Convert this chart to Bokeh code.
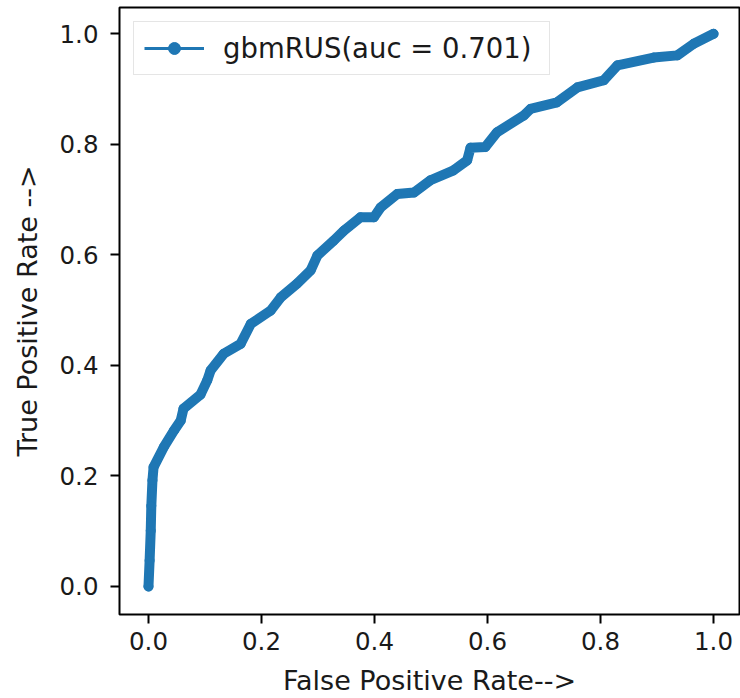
from bokeh.plotting import figure
from bokeh.models import Range1d, FixedTicker, PrintfTickFormatter, Legend, LegendItem
from bokeh.embed import file_html
from bokeh.resources import INLINE

# ROC curve
fpr = [0.000, 0.002, 0.004, 0.005, 0.007, 0.009, 0.027, 0.045, 0.057, 0.062,
       0.092, 0.104, 0.110, 0.133, 0.163, 0.181, 0.216, 0.234, 0.263, 0.287,
       0.299, 0.328, 0.346, 0.375, 0.399, 0.411, 0.440, 0.470, 0.499, 0.540,
       0.564, 0.570, 0.596, 0.617, 0.664, 0.676, 0.723, 0.759, 0.806, 0.830,
       0.894, 0.936, 0.965, 1.000]
tpr = [0.000, 0.047, 0.101, 0.146, 0.192, 0.216, 0.252, 0.282, 0.300, 0.322,
       0.347, 0.373, 0.391, 0.421, 0.439, 0.475, 0.499, 0.523, 0.548, 0.572,
       0.599, 0.626, 0.644, 0.668, 0.668, 0.686, 0.710, 0.713, 0.735, 0.753,
       0.771, 0.794, 0.795, 0.822, 0.852, 0.864, 0.876, 0.903, 0.916, 0.943,
       0.957, 0.961, 0.982, 1.000]
series_label = "gbmRUS(auc = 0.701)"
tick_values = [0.0, 0.2, 0.4, 0.6, 0.8, 1.0]

BLUE = "#1f77b4"
FONT = "DejaVu Sans"
TXT = "#1a1a1a"

p = figure(width=740, height=698, output_backend="svg", toolbar_location=None,
           x_range=Range1d(-0.0513, 1.046), y_range=Range1d(-0.0507, 1.0476),
           min_border_left=119, min_border_right=1, min_border_top=7,
           min_border_bottom=84)

p.xgrid.visible = False
p.ygrid.visible = False
p.outline_line_color = "black"
p.outline_line_width = 2
p.outline_line_alpha = 1
p.background_fill_color = "white"
p.border_fill_color = "white"

# dense band of points (the reference draws hundreds of overlapping dots)
p.line(fpr, tpr, line_color=BLUE, line_width=10, line_join="round", line_cap="round")
thin = p.line(fpr, tpr, line_color=BLUE, line_width=3)
dots = p.scatter(fpr, tpr, size=9, color=BLUE)

for ax in (p.xaxis[0], p.yaxis[0]):
    ax.ticker = FixedTicker(ticks=tick_values)
    ax.formatter = PrintfTickFormatter(format="%.1f")
    ax.major_tick_out = 9
    ax.major_tick_in = 0
    ax.minor_tick_out = 0
    ax.minor_tick_in = 0
    ax.major_tick_line_width = 2
    ax.major_tick_line_color = "black"
    ax.axis_line_color = None
    ax.major_label_text_font = FONT
    ax.major_label_text_font_size = "24.5px"
    ax.major_label_text_color = TXT
    ax.axis_label_text_font = FONT
    ax.axis_label_text_font_size = "27px"
    ax.axis_label_text_font_style = "normal"
    ax.axis_label_text_color = TXT

p.xaxis[0].axis_label = "False Positive Rate-->"
p.yaxis[0].axis_label = "True Positive Rate -->"
p.xaxis[0].major_label_standoff = 8
p.xaxis[0].axis_label_standoff = 12
p.yaxis[0].major_label_standoff = 12
p.yaxis[0].axis_label_standoff = 14

legend = Legend(items=[LegendItem(label=series_label, renderers=[thin, dots])],
                location="top_left")
legend.label_text_font = FONT
legend.label_text_font_size = "27.5px"
legend.label_text_color = TXT
legend.glyph_width = 60
legend.glyph_height = 30
legend.label_height = 30
legend.label_width = 316
legend.label_standoff = 19
legend.padding = 10
legend.margin = 14
legend.border_line_color = "#cccccc"
legend.border_line_width = 1.5
legend.background_fill_color = "white"
legend.background_fill_alpha = 0.85
p.add_layout(legend)

open("out.html", "w").write(file_html(p, INLINE))
